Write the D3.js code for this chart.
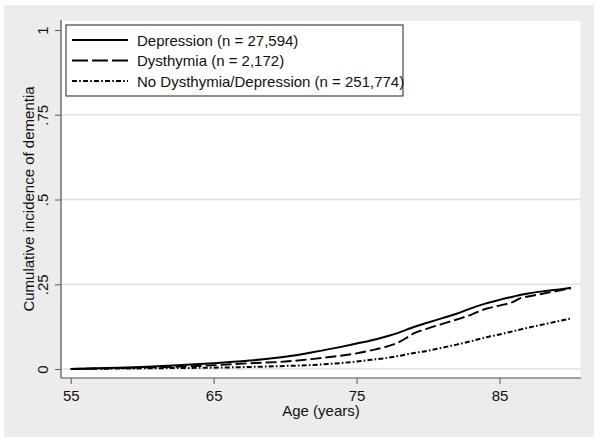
<!DOCTYPE html>
<html>
<head>
<meta charset="utf-8">
<script src="https://cdn.jsdelivr.net/npm/d3@7/dist/d3.min.js"></script>
<style>
  html, body { margin: 0; padding: 0; background: #ffffff; }
  svg { display: block; }
  text { font-family: "Liberation Sans", Arial, sans-serif; fill: #111; }
</style>
</head>
<body>
<svg id="chart" width="600" height="442"></svg>
<script>
// ---- data ----
const ages = [55, 57.5, 60, 62.5, 65, 67.5, 70, 72, 74, 75, 76, 77, 78, 78.5, 79, 80, 81, 82, 83, 84, 85, 86, 86.5, 87, 88, 89, 90];
const depression = [0, 0.003, 0.006, 0.011, 0.017, 0.025, 0.036, 0.050, 0.066, 0.075, 0.084, 0.095, 0.108, 0.116, 0.124, 0.137, 0.150, 0.163, 0.179, 0.193, 0.204, 0.214, 0.219, 0.223, 0.229, 0.234, 0.240];
const dysthymia = [0, 0.002, 0.004, 0.007, 0.011, 0.017, 0.022, 0.030, 0.040, 0.046, 0.055, 0.065, 0.080, 0.092, 0.105, 0.120, 0.133, 0.146, 0.160, 0.177, 0.187, 0.199, 0.210, 0.214, 0.222, 0.230, 0.238];
const noDepression = [0, 0.001, 0.002, 0.003, 0.004, 0.006, 0.009, 0.012, 0.018, 0.022, 0.027, 0.032, 0.039, 0.043, 0.047, 0.054, 0.063, 0.072, 0.082, 0.093, 0.102, 0.112, 0.117, 0.122, 0.131, 0.140, 0.149];
const seriesNames = ["Depression (n = 27,594)", "Dysthymia (n = 2,172)", "No Dysthymia/Depression (n = 251,774)"];
const xTicks = [55, 65, 75, 85];
const yTicks = [0, 0.25, 0.5, 0.75, 1];
const yTickLabels = ["0", ".25", ".5", ".75", "1"];
const xTitle = "Age (years)";
const yTitle = "Cumulative incidence of dementia";

// ---- layout ----
const svg = d3.select("#chart");
const plot = { left: 61, right: 581, top: 20, bottom: 378 };
const x = d3.scaleLinear().domain([54.32, 90.70]).range([plot.left, plot.right]);
const y = d3.scaleLinear().domain([-0.0265, 1.0295]).range([plot.bottom, plot.top]);

// graph region background
svg.append("rect").attr("x", 0).attr("y", 0).attr("width", 600).attr("height", 442).attr("fill", "#ffffff");
svg.append("rect").attr("x", 4).attr("y", 5).attr("width", 590).attr("height", 432).attr("fill", "#ececec");
// plot region
svg.append("rect").attr("x", plot.left).attr("y", plot.top)
  .attr("width", plot.right - plot.left).attr("height", plot.bottom - plot.top)
  .attr("fill", "#ffffff").attr("stroke", "#e6e6e6").attr("stroke-width", 1);

// gridlines
svg.append("g").selectAll("line").data(yTicks.filter(d => d < 1)).join("line")
  .attr("x1", plot.left).attr("x2", plot.right)
  .attr("y1", d => y(d)).attr("y2", d => y(d))
  .attr("stroke", "#e0e0e0").attr("stroke-width", 1.3);

// axes
const yAxis = d3.axisLeft(y).tickValues(yTicks).tickSize(6).tickPadding(0)
  .tickFormat((d, i) => yTickLabels[i]);
const gy = svg.append("g").attr("transform", `translate(${plot.left},0)`).call(yAxis);
gy.select(".domain").attr("stroke", "#555").attr("stroke-width", 1.2)
  .attr("d", `M0,${plot.top}V${plot.bottom}`);
gy.selectAll(".tick line").attr("stroke", "#666").attr("stroke-width", 1.1);
gy.selectAll(".tick text")
  .attr("x", null).attr("dy", null)
  .attr("text-anchor", "middle")
  .attr("transform", "translate(-13,0) rotate(-90)")
  .style("font-size", "15px")
  .style("font-family", "'Liberation Sans', Arial, sans-serif")
  .attr("fill", "#111");

const xAxis = d3.axisBottom(x).tickValues(xTicks).tickSize(6).tickPadding(0)
  .tickFormat(d3.format("d"));
const gx = svg.append("g").attr("transform", `translate(0,${plot.bottom})`).call(xAxis);
gx.select(".domain").attr("stroke", "#555").attr("stroke-width", 1.2)
  .attr("d", `M${plot.left},0H${plot.right}`);
gx.selectAll(".tick line").attr("stroke", "#666").attr("stroke-width", 1.1);
gx.selectAll(".tick text")
  .attr("y", 23).attr("dy", null)
  .style("font-size", "15px")
  .style("font-family", "'Liberation Sans', Arial, sans-serif")
  .attr("fill", "#111");

// axis titles
svg.append("text").attr("x", (plot.left + plot.right) / 2).attr("y", 416)
  .attr("text-anchor", "middle").style("font-size", "15px").text(xTitle);
svg.append("text")
  .attr("transform", `translate(34,${(plot.top + plot.bottom) / 2}) rotate(-90)`)
  .attr("text-anchor", "middle").style("font-size", "15px").text(yTitle);

// curves
const styles = [
  { dash: null, width: 2.0 },
  { dash: "11,4", width: 1.9 },
  { dash: "5,2.2,1.6,2.2", width: 2.0 }
];
const allSeries = [depression, dysthymia, noDepression];
const line = d3.line().x(d => x(d[0])).y(d => y(d[1])).curve(d3.curveMonotoneX);
const clip = svg.append("clipPath").attr("id", "clip").append("rect")
  .attr("x", plot.left).attr("y", plot.top).attr("width", plot.right - plot.left).attr("height", plot.bottom - plot.top);
const gLines = svg.append("g").attr("clip-path", "url(#clip)");
// draw no-depression first, depression last (on top)
[2, 1, 0].forEach(i => {
  gLines.append("path")
    .datum(ages.map((a, j) => [a, allSeries[i][j]]))
    .attr("d", line)
    .attr("fill", "none")
    .attr("stroke", "#000")
    .attr("stroke-width", styles[i].width)
    .attr("stroke-dasharray", styles[i].dash)
    .attr("stroke-linejoin", "round");
});

// legend
const leg = { x: 66, y: 25, w: 337, h: 71 };
svg.append("rect").attr("x", leg.x).attr("y", leg.y).attr("width", leg.w).attr("height", leg.h)
  .attr("fill", "#ffffff").attr("stroke", "#333").attr("stroke-width", 1.1);
const rowY = [40, 60.5, 81];
const lg = svg.append("g");
seriesNames.forEach((name, i) => {
  lg.append("line").attr("x1", 72).attr("x2", 128).attr("y1", rowY[i]).attr("y2", rowY[i])
    .attr("stroke", "#000").attr("stroke-width", styles[i].width)
    .attr("stroke-dasharray", i === 1 ? "16,4" : styles[i].dash);
  lg.append("text").attr("x", 137).attr("y", rowY[i] + 5.5)
    .style("font-size", "15px").text(name);
});
</script>
</body>
</html>
